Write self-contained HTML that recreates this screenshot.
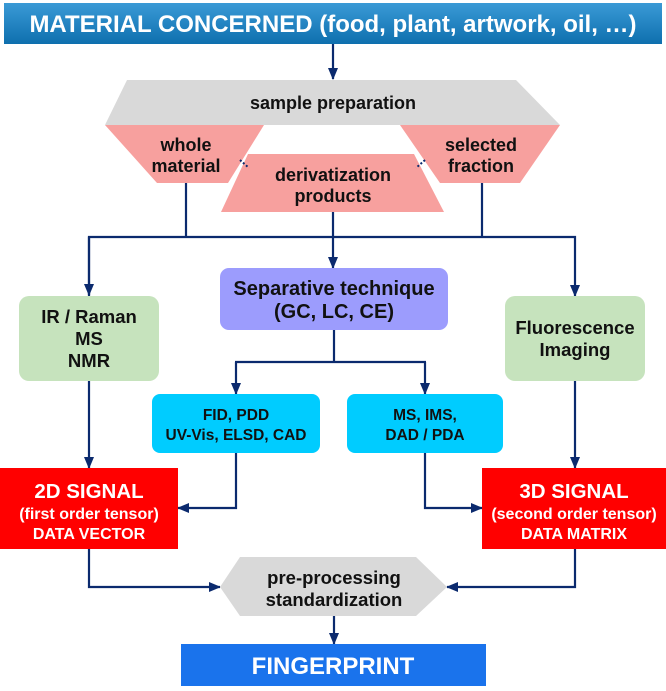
<!DOCTYPE html>
<html><head><meta charset="utf-8"><style>
html,body{margin:0;padding:0;background:#fff;}
svg{display:block;}
text{font-family:"Liberation Sans",Arial,sans-serif;font-weight:bold;text-anchor:middle;}
</style></head><body>
<svg width="666" height="691" viewBox="0 0 666 691" xmlns="http://www.w3.org/2000/svg">
<defs>
<linearGradient id="tb" x1="0" y1="0" x2="0" y2="1"><stop offset="0" stop-color="#3a9ad6"/><stop offset="1" stop-color="#0e6fae"/></linearGradient>
<marker id="ar" markerWidth="12" markerHeight="12" refX="11" refY="6" orient="auto" markerUnits="userSpaceOnUse"><path d="M0,1 L12,6 L0,11 Z" fill="#0b2a6e"/></marker>
</defs>
<rect x="4" y="3" width="658" height="41" fill="url(#tb)"/>
<text x="333" y="32" font-size="24" fill="#fff">MATERIAL CONCERNED (food, plant, artwork, oil, …)</text>

<g stroke="#0b2a6e" stroke-width="2.2" fill="none">
<line x1="333" y1="44" x2="333" y2="79" marker-end="url(#ar)"/>
<line x1="186" y1="183" x2="186" y2="237"/>
<line x1="482" y1="183" x2="482" y2="237"/>
<polyline points="89,296 89,237 575,237 575,296" marker-end="url(#ar)"/>
<line x1="89" y1="237" x2="89" y2="295" marker-end="url(#ar)"/>
<line x1="333" y1="212" x2="333" y2="268" marker-end="url(#ar)"/>
<polyline points="334,330 334,362"/>
<line x1="236" y1="362" x2="236" y2="394" marker-end="url(#ar)"/>
<line x1="425" y1="362" x2="425" y2="394" marker-end="url(#ar)"/>
<line x1="235" y1="362" x2="426" y2="362"/>
<line x1="89" y1="381" x2="89" y2="468" marker-end="url(#ar)"/>
<line x1="575" y1="381" x2="575" y2="468" marker-end="url(#ar)"/>
<polyline points="236,453 236,508 178,508" marker-end="url(#ar)"/>
<polyline points="425,453 425,508 482,508" marker-end="url(#ar)"/>
<polyline points="89,549 89,587 220,587" marker-end="url(#ar)"/>
<polyline points="575,549 575,587 447,587" marker-end="url(#ar)"/>
<line x1="334" y1="616" x2="334" y2="644" marker-end="url(#ar)"/>
</g>

<polygon points="127,80 516,80 560,125 105,125" fill="#d9d9d9"/>
<text x="333" y="109" font-size="18" fill="#111">sample preparation</text>
<polygon points="105,125 264,125 228,183 157,183" fill="#f7a09e"/>
<text x="186" y="151" font-size="18" fill="#111">whole</text>
<text x="186" y="172" font-size="18" fill="#111">material</text>
<polygon points="400,125 560,125 520,183 440,183" fill="#f7a09e"/>
<text x="481" y="151" font-size="18" fill="#111">selected</text>
<text x="481" y="172" font-size="18" fill="#111">fraction</text>
<polygon points="248,154 414,154 444,212 221,212" fill="#f7a09e"/>
<text x="333" y="181" font-size="18" fill="#111">derivatization</text>
<text x="333" y="202" font-size="18" fill="#111">products</text>
<g stroke="#0b2a6e" stroke-width="2" stroke-dasharray="2,2"><line x1="240" y1="160" x2="249" y2="168"/><line x1="425" y1="160" x2="416" y2="168"/></g>

<rect x="19" y="296" width="140" height="85" rx="10" fill="#c6e3bd"/>
<text x="89" y="323" font-size="18.5" fill="#111">IR / Raman</text>
<text x="89" y="345" font-size="18.5" fill="#111">MS</text>
<text x="89" y="367" font-size="18.5" fill="#111">NMR</text>
<rect x="505" y="296" width="140" height="85" rx="10" fill="#c6e3bd"/>
<text x="575" y="334" font-size="18.5" fill="#111">Fluorescence</text>
<text x="575" y="356" font-size="18.5" fill="#111">Imaging</text>
<rect x="220" y="268" width="228" height="62" rx="9" fill="#9c9cfd"/>
<text x="334" y="295" font-size="20" fill="#111">Separative technique</text>
<text x="334" y="318" font-size="20" fill="#111">(GC, LC, CE)</text>
<rect x="152" y="394" width="168" height="59" rx="8" fill="#00ccff"/>
<text x="236" y="420" font-size="15.5" fill="#111">FID, PDD</text>
<text x="236" y="440" font-size="15.5" fill="#111">UV-Vis, ELSD, CAD</text>
<rect x="347" y="394" width="156" height="59" rx="8" fill="#00ccff"/>
<text x="425" y="420" font-size="15.5" fill="#111">MS, IMS,</text>
<text x="425" y="440" font-size="15.5" fill="#111">DAD / PDA</text>

<rect x="0" y="468" width="178" height="81" fill="#ff0000"/>
<text x="89" y="498" font-size="20.5" fill="#fff">2D SIGNAL</text>
<text x="89" y="519" font-size="16" fill="#fff">(first order tensor)</text>
<text x="89" y="539" font-size="16" fill="#fff">DATA VECTOR</text>
<rect x="482" y="468" width="184" height="81" fill="#ff0000"/>
<text x="574" y="498" font-size="20.5" fill="#fff">3D SIGNAL</text>
<text x="574" y="519" font-size="16" fill="#fff">(second order tensor)</text>
<text x="574" y="539" font-size="16" fill="#fff">DATA MATRIX</text>

<polygon points="240,557 416,557 447,587 416,616 240,616 220,587" fill="#d9d9d9"/>
<text x="334" y="584" font-size="18.5" fill="#111">pre-processing</text>
<text x="334" y="606" font-size="18.5" fill="#111">standardization</text>

<rect x="181" y="644" width="305" height="42" fill="#1a73ec"/>
<text x="333" y="674" font-size="24" fill="#fff">FINGERPRINT</text>
</svg>
</body></html>
